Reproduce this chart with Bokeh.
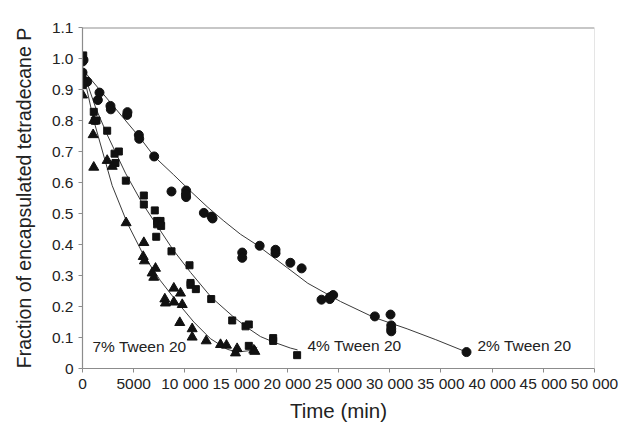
from bokeh.plotting import figure
from bokeh.models import FixedTicker, Span, Label
from bokeh.embed import file_html
from bokeh.resources import INLINE

# ---- data: 2% Tween 20 (circles) ----
t_2 = [0, 0, 100, 0, 300, 460, 1500, 1660, 2730, 2770, 4360, 4390, 5500, 5540, 7000,
       8690, 10120, 10120, 10100, 11850, 12600, 12700, 15600, 15600, 17300, 18850, 18850,
       20300, 21400, 23340, 24150, 24480, 24150, 28550, 30080, 30150, 30150, 30150, 37500]
p_2 = [1.00, 0.99, 0.995, 0.955, 0.925, 0.925, 0.866, 0.89, 0.847, 0.836, 0.818, 0.827, 0.753, 0.741, 0.684,
       0.571, 0.574, 0.553, 0.562, 0.502, 0.49, 0.484, 0.374, 0.357, 0.396, 0.383, 0.372,
       0.341, 0.323, 0.222, 0.23, 0.237, 0.224, 0.168, 0.174, 0.139, 0.128, 0.12, 0.053]

# ---- data: 4% Tween 20 (squares) ----
t_4 = [70, 0, 0, 0, 70, 1100, 1370, 1200, 2410, 3550, 3130, 3220, 4230, 5990, 5990, 7060,
       7290, 7620, 7290, 7680, 7200, 8690, 10450, 10550, 10550, 11070, 12570, 14620,
       15920, 16240, 16240, 18620, 18620, 20960]
p_4 = [1.01, 0.994, 0.946, 0.914, 0.925, 0.828, 0.80, 0.799, 0.767, 0.70, 0.693, 0.663, 0.606, 0.558, 0.529, 0.51,
       0.476, 0.476, 0.465, 0.46, 0.425, 0.378, 0.333, 0.276, 0.27, 0.256, 0.224, 0.155,
       0.136, 0.142, 0.073, 0.098, 0.089, 0.043]

# ---- data: 7% Tween 20 (triangles) ----
t_7 = [0, 1100, 1040, 1100, 2410, 2900, 4260, 5990, 5930, 6050, 6800, 7130, 6960, 8040, 8100,
       8920, 8920, 9570, 9740, 9500, 10710, 10710, 12080, 13480, 14060, 14940, 15100, 16730, 16830]
p_7 = [0.882, 0.80, 0.754, 0.649, 0.671, 0.652, 0.47, 0.406, 0.361, 0.347, 0.308, 0.323, 0.294, 0.224, 0.211,
       0.259, 0.214, 0.243, 0.206, 0.148, 0.128, 0.101, 0.089, 0.077, 0.075, 0.05, 0.064, 0.059, 0.055]

# ---- fitted curves ----
fit2_t = [0, 2800, 5600, 7000, 8900, 10550, 12170, 13800, 15430, 17060, 18500, 20000, 22000,
          25200, 28450, 31700, 34500, 37500]
fit2_p = [0.965, 0.855, 0.745, 0.684, 0.625, 0.572, 0.522, 0.476, 0.433, 0.398, 0.362, 0.325, 0.275,
          0.216, 0.165, 0.128, 0.093, 0.053]
fit4_t = [0, 1300, 2400, 4200, 5800, 7300, 8800, 10550, 12570, 14620, 16080, 17380, 18680, 20300, 21000]
fit4_p = [0.964, 0.84, 0.755, 0.63, 0.535, 0.46, 0.385, 0.31, 0.23, 0.17, 0.132, 0.103, 0.085, 0.066, 0.06]
fit7_t = [0, 1100, 2900, 4360, 5990, 7620, 9250, 10870, 12500, 14130, 15100, 16410, 17060]
fit7_p = [0.964, 0.80, 0.59, 0.47, 0.364, 0.283, 0.214, 0.15, 0.096, 0.062, 0.053, 0.058, 0.068]

x_ticks = [0, 5000, 10000, 15000, 20000, 25000, 30000, 35000, 40000, 45000, 50000]
x_tick_labels = ["0", "5000", "10 000", "15 000", "20 000", "25 000", "30 000", "35 000",
                 "40 000", "45 000", "50 000"]
y_ticks = [0, 0.1, 0.2, 0.3, 0.4, 0.5, 0.6, 0.7, 0.8, 0.9, 1.0, 1.1]
y_tick_labels = ["0", "0.1", "0.2", "0.3", "0.4", "0.5", "0.6", "0.7", "0.8", "0.9", "1.0", "1.1"]

FONT = "Liberation Sans"
TXT = "#222222"

p = figure(width=619, height=424, x_range=(0, 50000), y_range=(0, 1.1),
           output_backend="svg", toolbar_location=None,
           min_border_left=82, min_border_right=25, min_border_top=27, min_border_bottom=54)
p.outline_line_color = None
p.xgrid.grid_line_color = None
p.ygrid.grid_line_color = None
p.background_fill_color = "white"
p.border_fill_color = "white"

for ax in (p.xaxis[0], p.yaxis[0]):
    ax.axis_line_color = "#8c8c8c"
    ax.axis_line_width = 1.2
    ax.major_tick_line_color = "#8c8c8c"
    ax.major_tick_in = 0
    ax.major_tick_out = 4
    ax.minor_tick_line_color = None
    ax.major_label_text_font = FONT
    ax.major_label_text_font_size = "15.5px"
    ax.major_label_text_color = TXT
    ax.axis_label_text_font = FONT
    ax.axis_label_text_font_style = "normal"
    ax.axis_label_text_color = TXT

p.xaxis.axis_label_text_font_size = "20.5px"
p.yaxis.axis_label_text_font_size = "19.5px"
p.xaxis.ticker = FixedTicker(ticks=x_ticks)
p.xaxis.major_label_overrides = {v: s for v, s in zip(x_ticks, x_tick_labels)}
p.yaxis.ticker = FixedTicker(ticks=y_ticks)
p.yaxis.major_label_overrides = {v: s for v, s in zip(y_ticks, y_tick_labels)}
p.xaxis.major_label_standoff = 2
p.yaxis.major_label_standoff = 5
p.xaxis.axis_label = "Time (min)"
p.yaxis.axis_label = "Fraction of encapsulated tetradecane P"
p.xaxis.axis_label_standoff = 4
p.yaxis.axis_label_standoff = 14

p.add_layout(Span(location=1.1, dimension="width", line_color="#8f8f8f", line_width=2))
p.add_layout(Span(location=50000, dimension="height", line_color="#cccccc", line_width=1))

LINE = "#3a3a3a"
p.line(fit2_t, fit2_p, line_color=LINE, line_width=1)
p.line(fit4_t, fit4_p, line_color=LINE, line_width=1)
p.line(fit7_t, fit7_p, line_color=LINE, line_width=1)

MK = "#111111"
p.scatter(t_2, p_2, marker="circle", size=9, fill_color=MK, line_color=MK)
p.scatter(t_4, p_4, marker="square", size=7, fill_color=MK, line_color=MK)
p.scatter(t_7, p_7, marker="triangle", size=10, fill_color=MK, line_color=MK)

for x, y, s in [(977, 0.072, "7% Tween 20"), (21970, 0.074, "4% Tween 20"), (38570, 0.074, "2% Tween 20")]:
    p.add_layout(Label(x=x, y=y, text=s, text_font=FONT, text_font_size="15.5px",
                       text_color=TXT, text_baseline="middle", text_align="left"))

open("out.html", "w").write(file_html(p, INLINE))
